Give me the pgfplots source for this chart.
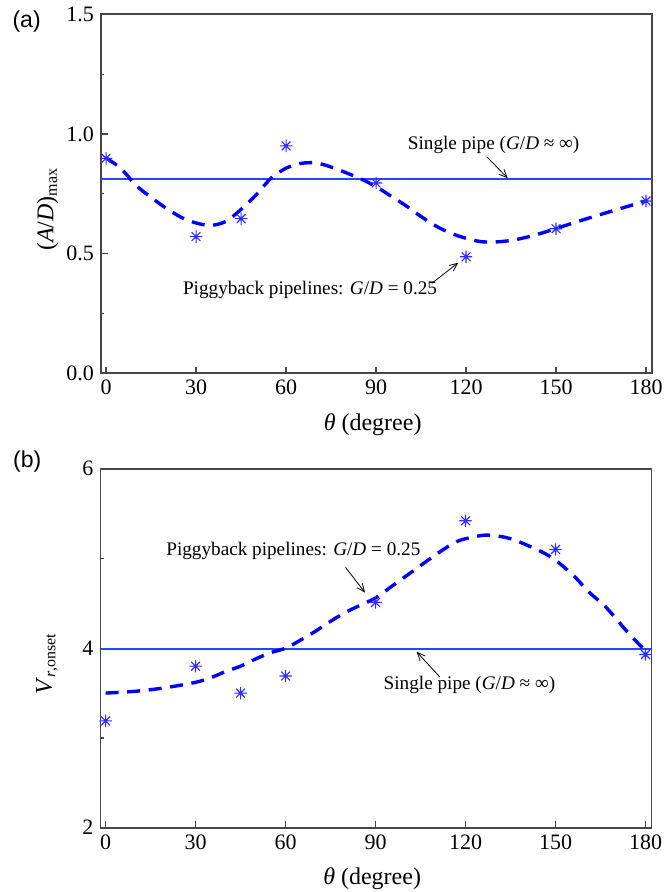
\documentclass[border=0pt]{standalone}
\usepackage{fontspec}
\setmainfont{Liberation Serif}
\newfontfamily\panelfont{Liberation Sans}
\usepackage{pgfplots}
\pgfplotsset{compat=1.18}
\usetikzlibrary{arrows.meta}

\definecolor{markblue}{RGB}{45,45,255}
\definecolor{lineblue}{RGB}{40,70,255}
\definecolor{axisgray}{RGB}{70,70,70}

\newcommand{\ticksize}{\fontsize{11}{13}\selectfont}
\newcommand{\labsize}{\fontsize{12}{14}\selectfont}
\newcommand{\notesize}{\fontsize{9.6}{11}\selectfont}

% eight-spoke star, as Origin draws it
\pgfdeclareplotmark{star8}{%
  \pgfpathmoveto{\pgfqpoint{0pt}{\pgfplotmarksize}}%
  \pgfpathlineto{\pgfqpoint{0pt}{-\pgfplotmarksize}}%
  \pgfpathmoveto{\pgfqpoint{\pgfplotmarksize}{0pt}}%
  \pgfpathlineto{\pgfqpoint{-\pgfplotmarksize}{0pt}}%
  \pgfpathmoveto{\pgfqpointpolar{45}{\pgfplotmarksize}}%
  \pgfpathlineto{\pgfqpointpolar{225}{\pgfplotmarksize}}%
  \pgfpathmoveto{\pgfqpointpolar{135}{\pgfplotmarksize}}%
  \pgfpathlineto{\pgfqpointpolar{315}{\pgfplotmarksize}}%
  \pgfusepathqstroke}

\tikzset{
  note/.style={font=\notesize, inner sep=0pt},
  pointer/.style={black, line width=0.4pt, -{Straight Barb[length=4pt,width=3.5pt]}},
}

\pgfplotsset{
  panel/.style={
    scale only axis, width=275.5pt, height=179.5pt,
    xmin=-1.7, xmax=182,
    xtick={0,30,...,180},
    tick align=inside, xtick pos=bottom, ytick pos=left,
    major tick length=3.3pt, minor tick length=1.6pt,
    axis line style={axisgray, line width=0.8pt},
    tick style={axisgray, line width=0.6pt},
    ticklabel style={font=\ticksize},
    /pgf/number format/assume math mode=true,
    label style={font=\labsize},
    xlabel={\textit{θ} (degree)},
    xlabel style={at={(axis description cs:0.493,-0.142)}, anchor=center},
    ylabel style={at={(axis description cs:-0.097,0.457)}, anchor=center},
    clip=false,
  },
  fitcurve/.style={blue, line width=1.7pt, dash pattern=on 6.5pt off 4.3pt, smooth, no marks},
  pts/.style={only marks, mark=star8, mark size=3.1pt, markblue, mark options={line width=0.55pt}},
  refline/.style={color=lineblue, line width=0.9pt, mark=none},
}

\begin{document}
\begin{tikzpicture}
\useasboundingbox (-50.5pt,186.65pt) rectangle (285pt,-259.35pt);

% (a)
\begin{axis}[panel, at={(0pt,0pt)}, anchor=south west,
  ymin=0, ymax=1.5, ytick={0,0.5,1,1.5}, minor y tick num=1,
  yticklabels={0.0,0.5,1.0,1.5},
  ylabel={(\textit{A}/\textit{D})\textsubscript{max}},
]
\addplot[refline] coordinates {(-1.7,0.811) (182,0.811)};
\addplot[fitcurve] coordinates {
(0,0.90) (5,0.855) (10,0.785) (15,0.735) (20,0.69) (25,0.652) (30,0.628) (35,0.618)
(40,0.635) (45,0.685) (50,0.745) (55,0.815) (60,0.857) (65,0.877) (70,0.879)
(75,0.862) (80,0.838) (85,0.812) (90,0.78) (95,0.74) (100,0.70) (105,0.655)
(110,0.615) (115,0.585) (120,0.564) (125,0.55) (130,0.549) (135,0.555) (140,0.568)
(145,0.585) (150,0.605) (160,0.645) (170,0.683) (180,0.72)};
\addplot[pts] coordinates {
(0,0.898) (30,0.571) (45,0.646) (60,0.950) (90,0.795) (120,0.487) (150,0.604) (180,0.720)};
\node[note] at (axis cs:129.2,0.954) {Single pipe (\textit{G}/\textit{D} ≈ ∞)};
\draw[pointer] (axis cs:126.9,0.905) -- (axis cs:133.9,0.815);
\node[note] at (axis cs:68,0.348) {Piggyback pipelines: \textit{G}/\textit{D} = 0.25};
\draw[pointer] (axis cs:108.6,0.376) -- (axis cs:117.4,0.462);
\node[font=\panelfont\fontsize{11.5}{13}\selectfont, inner sep=0pt] at (axis description cs:-0.135,0.981) {(a)};
\end{axis}

% (b)
\begin{axis}[panel, at={(-0.25pt,-227.2pt)}, anchor=south west,
  ymin=2, ymax=6, ytick={2,4,6}, minor y tick num=1,
  ylabel={\textit{V}\textsubscript{\textit{r},onset}},
]
\addplot[refline] coordinates {(-1.7,3.99) (182,3.99)};
\addplot[fitcurve] coordinates {
(0,3.50) (10,3.52) (20,3.56) (30,3.62) (35,3.67) (40,3.74) (45,3.80) (50,3.88)
(55,3.95) (60,4.00) (65,4.09) (70,4.19) (75,4.30) (80,4.40) (85,4.48) (90,4.56)
(95,4.68) (100,4.80) (110,5.04) (116,5.17) (120,5.22) (127,5.26) (135,5.22)
(145,5.08) (150,4.98) (156,4.81) (161,4.63) (167,4.45) (174,4.18) (180,3.97)};
\addplot[pts] coordinates {
(0,3.19) (30,3.80) (45,3.50) (60,3.69) (90,4.51) (120,5.42) (150,5.10) (180,3.93)};
\node[note] at (axis cs:62.6,5.08) {Piggyback pipelines: \textit{G}/\textit{D} = 0.25};
\draw[pointer] (axis cs:80.0,4.90) -- (axis cs:86.5,4.62);
\node[note] at (axis cs:121.3,3.59) {Single pipe (\textit{G}/\textit{D} ≈ ∞)};
\draw[pointer] (axis cs:111.4,3.68) -- (axis cs:103.7,3.96);
\node[font=\panelfont\fontsize{11.5}{13}\selectfont, inner sep=0pt] at (axis description cs:-0.133,1.019) {(b)};
\end{axis}
\end{tikzpicture}
\end{document}
